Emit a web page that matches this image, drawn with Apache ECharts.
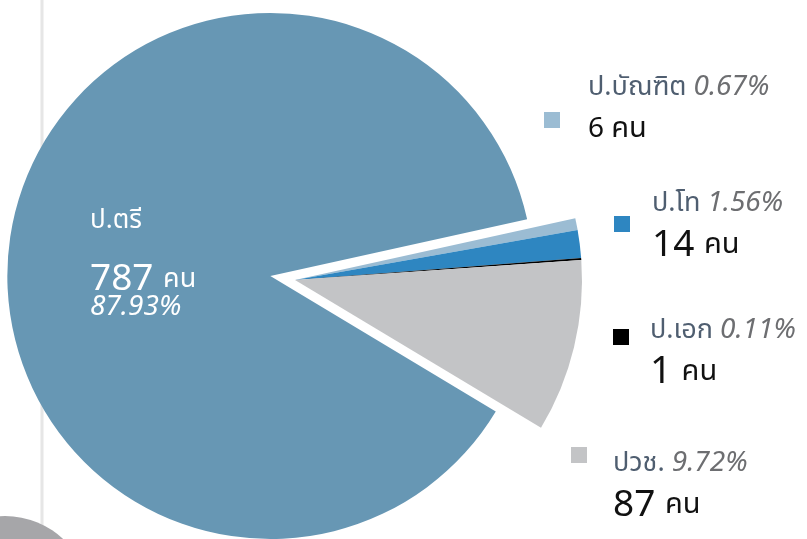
<!DOCTYPE html>
<html>
<head>
<meta charset="utf-8">
<script src="https://cdn.jsdelivr.net/npm/echarts@6/dist/echarts.min.js"></script>
<style>
  html, body { margin: 0; padding: 0; background: #fff; }
  #chart { width: 807px; height: 539px; }
</style>
</head>
<body>
<div id="chart"></div>
<script>
// data
const names = ['ป.ตรี', 'ป.บัณฑิต', 'ป.โท', 'ป.เอก', 'ปวช.']
const counts = [787, 6, 14, 1, 87]
const unit = 'คน'

// styles / layout
const colorList = ['#6797b4', '#9bbcd3', '#2e86c1', '#000000', '#c3c4c6']
const textPos = [[90, 179], [588, 66], [652, 182], [650, 309], [613, 442]]
const markPos = [null, [544, 112], [614, 216], [613, 329], [571, 447]]
const valueSize = [37, 28, 37, 38, 37]
const font = "'Noto Sans', 'Noto Sans Thai', sans-serif"

const total = counts.reduce((a, b) => a + b, 0)
const pct = i => (counts[i] / total * 100).toFixed(2) + '%'
const clear = 'rgba(0,0,0,0)'

const bigLabel = {
  show: true,
  position: 'inside',
  formatter: p => `{n|${p.name}}\n{v|${p.value} }{u|${unit}}\n{p|${pct(p.dataIndex)}}`,
  rich: {
    n: { fontFamily: font, fontSize: 26, color: '#fff', lineHeight: 84 },
    v: { fontFamily: font, fontSize: 37, color: '#fff', lineHeight: 32 },
    u: { fontFamily: font, fontSize: 27, color: '#fff', lineHeight: 32 },
    p: { fontFamily: font, fontSize: 28, fontStyle: 'italic', color: '#fff', lineHeight: 24 }
  }
}

const markLabel = i => ({
  show: true,
  position: 'inside',
  formatter: '{m|}',
  rich: { m: { width: 16, height: 16, backgroundColor: colorList[i] } }
})

const textLabel = i => i === 0 ? bigLabel : ({
  show: true,
  position: 'inside',
  formatter: p => `{n|${p.name} }{p|${pct(p.dataIndex)}}\n{v|${p.value} }{u|${unit}}`,
  rich: {
    n: { fontFamily: font, fontSize: 27, color: '#4f5e70', lineHeight: 42 },
    p: { fontFamily: font, fontSize: 28, fontStyle: 'italic', color: '#6d6e71', lineHeight: 42 },
    v: { fontFamily: font, fontSize: valueSize[i], color: '#111', lineHeight: 42 },
    u: { fontFamily: font, fontSize: 29, color: '#111', lineHeight: 42 }
  }
})

const place = pos => ({ x: pos[0], y: pos[1], align: 'left', verticalAlign: 'top' })

const chart = echarts.init(document.getElementById('chart'))
const option = {
  animation: false,
  graphic: [
    { type: 'line', z: -1, shape: { x1: 42, y1: 0, x2: 42, y2: 539 }, style: { stroke: '#e6e6e6', lineWidth: 3 } },
    { type: 'circle', shape: { cx: 5, cy: 601, r: 85 }, style: { fill: '#a6a6a9' } }
  ],
  series: [
    {
      // inner ring: offset ป.ตรี slice, and the colour markers
      type: 'pie',
      center: [295, 280],
      radius: 263,
      startAngle: 329,
      clockwise: true,
      selectedMode: 'single',
      selectedOffset: 25,
      avoidLabelOverlap: false,
      silent: true,
      emphasis: { disabled: true },
      labelLine: { show: false },
      data: names.map((name, i) => ({
        name,
        value: counts[i],
        selected: i === 0,
        itemStyle: { color: i === 0 ? colorList[0] : clear },
        label: i === 0 ? { show: false } : markLabel(i)
      })),
      labelLayout: p => p.dataIndex === 0 ? {} : place(markPos[p.dataIndex])
    },
    {
      // outer ring: the small slices and all text
      type: 'pie',
      center: [295, 280],
      radius: 287,
      startAngle: 329,
      clockwise: true,
      avoidLabelOverlap: false,
      silent: true,
      emphasis: { disabled: true },
      labelLine: { show: false },
      data: names.map((name, i) => ({
        name,
        value: counts[i],
        itemStyle: { color: i === 0 ? clear : colorList[i] },
        label: textLabel(i)
      })),
      labelLayout: p => place(textPos[p.dataIndex])
    }
  ]
}
chart.setOption(option)
</script>
</body>
</html>
